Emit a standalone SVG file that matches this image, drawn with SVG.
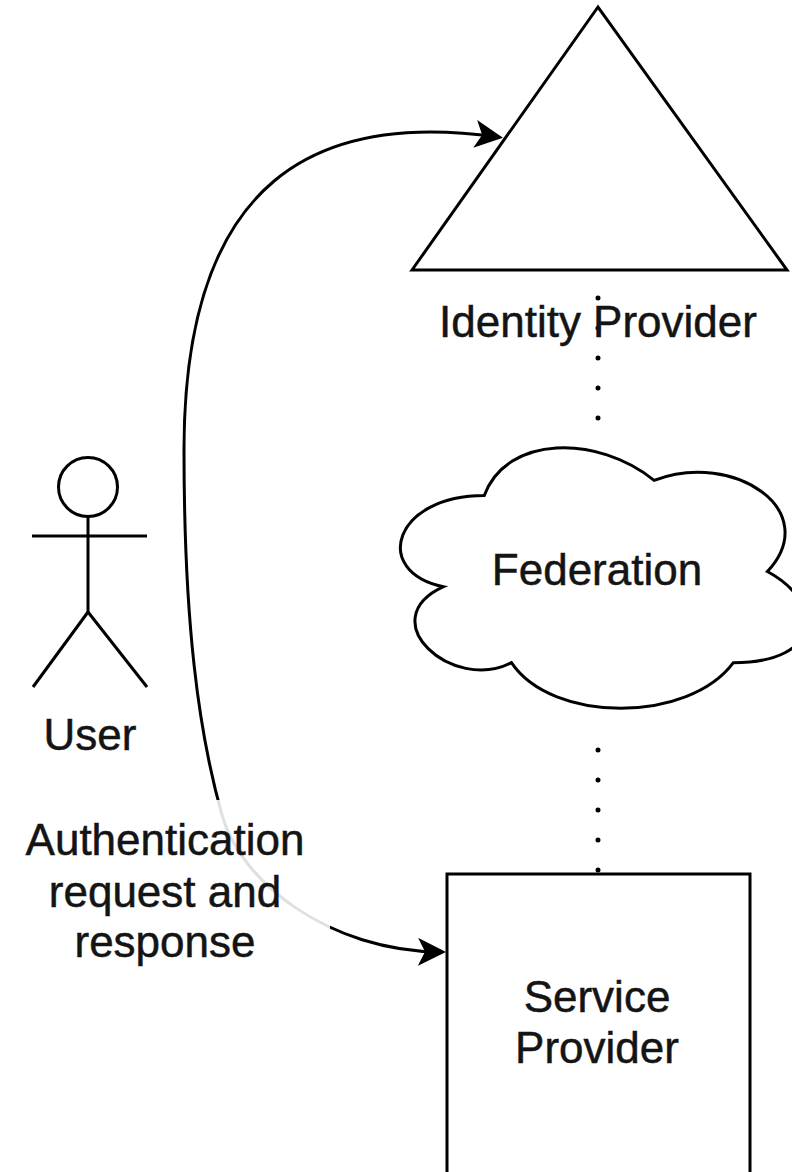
<svg xmlns="http://www.w3.org/2000/svg" width="792" height="1172" viewBox="0 0 792 1172">
  <style>
    .shape { fill: #ffffff; stroke: #000000; stroke-width: 3; }
    .stick { fill: none; stroke: #000000; stroke-width: 3; }
    .lbl { font-family: "Liberation Sans", Arial, sans-serif; font-size: 44px; fill: #141414; stroke: #141414; stroke-width: 0.5; text-anchor: middle; }
    .edge { fill: none; stroke: #000000; stroke-width: 3; }
    .dots { fill: none; stroke: #000000; stroke-width: 5; stroke-linecap: round; stroke-dasharray: 0 30; }
  </style>
  <defs>
    <marker id="arrow" markerUnits="userSpaceOnUse" viewBox="0 0 28 28" markerWidth="28" markerHeight="28" refX="22" refY="14" orient="auto-start-reverse">
      <path d="M0,0 L28,14 L0,28 L7,14 Z" fill="#000000"/>
    </marker>
  </defs>
  <rect x="0" y="0" width="792" height="1172" fill="#ffffff"/>

  <g id="connectors">
    <line class="dots" x1="598" y1="298" x2="598" y2="420"/>
    <line class="dots" x1="598" y1="750" x2="598" y2="872"/>
    <path class="edge" d="M 440 952 C 330 951, 241 883, 222 815 C 198 730, 184 620, 184 450 C 184 175, 320 112, 497 137" marker-start="url(#arrow)" marker-end="url(#arrow)"/>
  </g>

  <g id="identity-provider">
    <polygon class="shape" points="412,270 598,7 787,270" fill-opacity="0"/>
    <text class="lbl" x="598" y="337">Identity Provider</text>
  </g>

  <g id="federation">
    <path class="shape" transform="translate(371,419.5) scale(453,304)" vector-effect="non-scaling-stroke"
      d="M 0.25 0.25 C 0.05 0.25 0 0.5 0.16 0.55 C 0 0.66 0.18 0.9 0.31 0.8 C 0.4 1 0.7 1 0.8 0.8 C 1 0.8 1 0.6 0.875 0.5 C 1 0.3 0.8 0.1 0.625 0.2 C 0.5 0.05 0.3 0.05 0.25 0.25 Z"/>
    <text class="lbl" x="597" y="585">Federation</text>
  </g>

  <g id="user">
    <circle class="stick" cx="88" cy="487" r="29.5"/>
    <line class="stick" x1="88" y1="516.5" x2="88" y2="612"/>
    <line class="stick" x1="32" y1="536" x2="147" y2="536"/>
    <line class="stick" x1="88" y1="612" x2="33" y2="687"/>
    <line class="stick" x1="88" y1="612" x2="147" y2="687"/>
    <text class="lbl" x="90" y="750">User</text>
  </g>

  <g id="edge-label">
    <rect x="0" y="800" width="330" height="175" fill="#ffffff" fill-opacity="0.88"/>
    <text class="lbl" x="165" y="855">Authentication</text>
    <text class="lbl" x="165" y="907">request and</text>
    <text class="lbl" x="165" y="957">response</text>
  </g>

  <g id="service-provider">
    <rect class="shape" x="447" y="874" width="303" height="320"/>
    <text class="lbl" x="597" y="1012">Service</text>
    <text class="lbl" x="597" y="1063">Provider</text>
  </g>
</svg>
